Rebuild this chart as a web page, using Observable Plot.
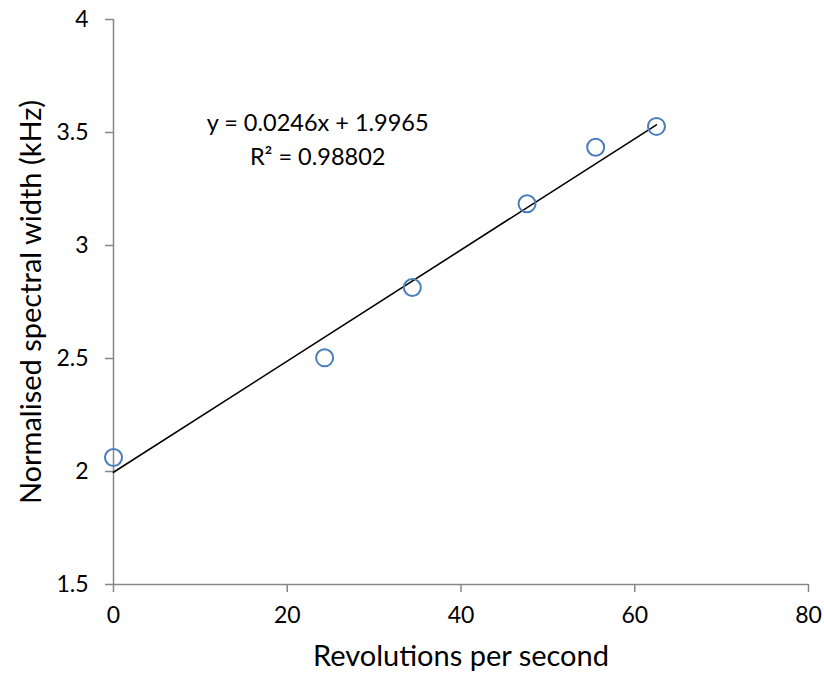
<!DOCTYPE html>
<html>
<head>
<meta charset="utf-8">
<script src="https://cdn.jsdelivr.net/npm/d3@7"></script>
<script src="https://cdn.jsdelivr.net/npm/@observablehq/plot@0.6"></script>
<style>
  html, body { margin: 0; padding: 0; background: #fff; }
  #chart svg { display: block; }
</style>
</head>
<body>
<div id="chart"></div>
<script>
const revs = [0, 24.3, 34.4, 47.6, 55.5, 62.5];
const widths = [2.062, 2.503, 2.814, 3.185, 3.435, 3.527];
const slope = [0.0246];
const intercept = [1.9965];
const xTicks = [0, 20, 40, 60, 80];
const yTicks = [1.5, 2, 2.5, 3, 3.5, 4];
const equationLines = ["y = 0.0246x + 1.9965", "R² = 0.98802"];
const equationAnchor = [{x: 23.5, y: 3.478}];

const points = revs.map((x, i) => ({x, y: widths[i]}));
const xMax = d3.max(revs);
const trend = [0, xMax].map(x => ({x, y: slope[0] * x + intercept[0]}));

const font = "Lato, 'Open Sans', sans-serif";
const axisColor = "#878787";

const chart = Plot.plot({
  width: 824,
  height: 681,
  marginLeft: 113,
  marginRight: 16,
  marginTop: 19,
  marginBottom: 97,
  style: {fontFamily: font, background: "#fff"},
  x: {domain: [0, 80]},
  y: {domain: [1.5, 4]},
  marks: [
    Plot.ruleY([1.5], {stroke: axisColor, strokeWidth: 1.5}),
    Plot.ruleX([0], {stroke: axisColor, strokeWidth: 1.5}),
    Plot.axisX({ticks: xTicks, tickSize: 8, tickPadding: 14, stroke: axisColor, strokeWidth: 1.5, fill: "#000", fontSize: 23, label: null, tickFormat: d => d}),
    Plot.axisY({ticks: yTicks, tickSize: 8, tickPadding: 17, stroke: axisColor, strokeWidth: 1.5, fill: "#000", fontSize: 23, label: null, tickFormat: d => String(d)}),
    Plot.line(trend, {x: "x", y: "y", stroke: "#000", strokeWidth: 1.6}),
    Plot.dot(points, {x: "x", y: "y", r: 8.5, stroke: "#4a7ebb", strokeWidth: 2, fill: "none"}),
    Plot.text(equationAnchor, {x: "x", y: "y", text: () => equationLines.join("\n"), lineHeight: 1.42, fontSize: 23.5, fill: "#000", textAnchor: "middle"}),
    Plot.text(["Revolutions per second"], {frameAnchor: "bottom", textAnchor: "middle", dy: 81, fontSize: 29, fill: "#000"}),
    Plot.text(["Normalised spectral width (kHz)"], {frameAnchor: "left", textAnchor: "middle", dx: -82, rotate: -90, fontSize: 29, fill: "#000"})
  ]
});
document.getElementById("chart").appendChild(chart);
</script>
</body>
</html>
